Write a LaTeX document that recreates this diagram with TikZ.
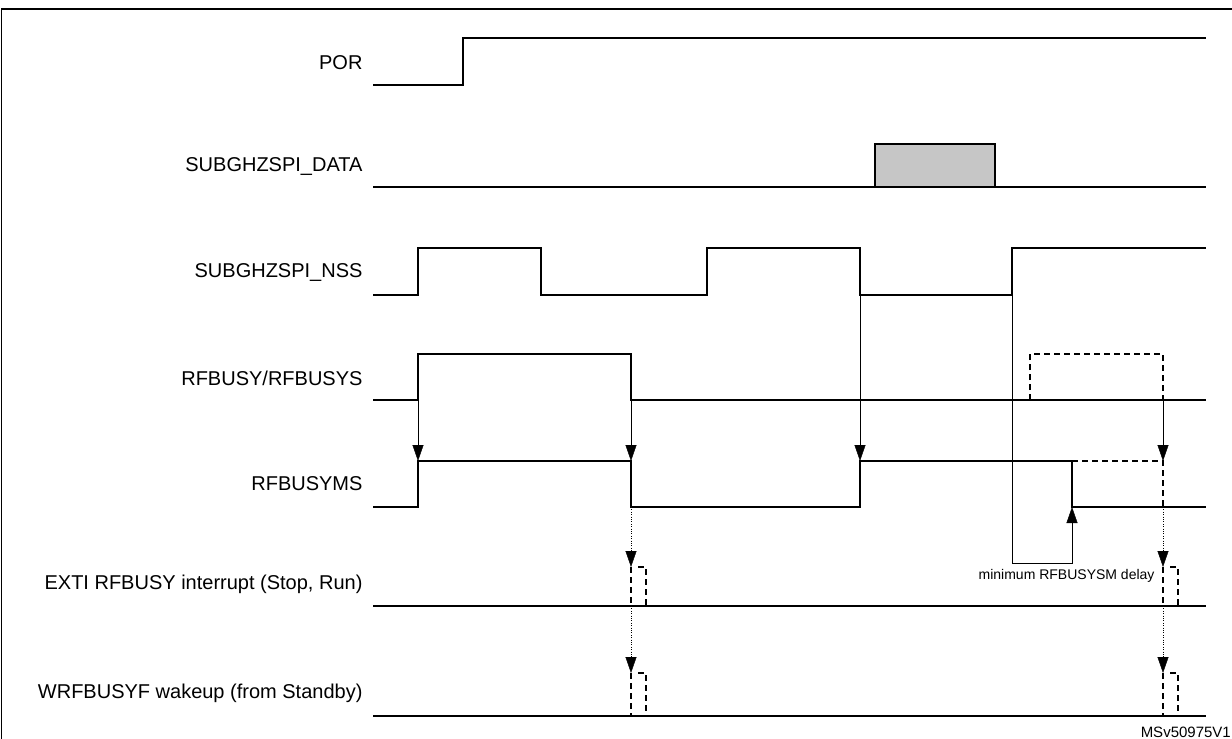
\documentclass[tikz,border=0pt]{standalone}
\usepackage{fontspec}
\setmainfont{Liberation Sans}
\usetikzlibrary{arrows.meta}
\begin{document}
\begin{tikzpicture}[x=1pt, y=-1pt,
    sig/.style={line width=1.6pt},
    dsig/.style={line width=1.6pt, dash pattern=on 6pt off 4pt},
    lbl/.style={anchor=east, font=\fontsize{20}{24}\selectfont},
    cause/.style={thin, -{Triangle[length=16pt, width=11pt]}},
    wake/.style={thin, dotted, -{Triangle[length=16pt, width=11pt]}}]
    \useasboundingbox (0,0) rectangle (1232,739);
    \draw[line width=1.2pt] (1.5,739) -- (1.5,9) -- (1232,9);

    % labels
    \node[lbl] (lPOR) at (366,63) {POR};
    \node[lbl] (lDATA) at (366,167) {SUBGHZSPI\_DATA};
    \node[lbl] (lNSS) at (366,273) {SUBGHZSPI\_NSS};
    \node[lbl] (lBUSY) at (366,378) {RFBUSY/RFBUSYS};
    \node[lbl] (lMS) at (366,484) {RFBUSYMS};
    \node[lbl] (lEXTI) at (366,584) {EXTI RFBUSY interrupt (Stop, Run)};
    \node[lbl] (lWK) at (366,693) {WRFBUSYF wakeup (from Standby)};

    % waveforms
    \draw[sig] (373,85) -- (463,85) -- (463,38) -- (1206,38); % POR
    \draw[sig, fill=gray!45] (875,187) rectangle (995,144); % data
    \draw[sig] (373,187) -- (1206,187);
    \draw[sig] (373,295) -- (418,295) -- (418,248) -- (541,248) -- (541,295) -- (707,295)
        -- (707,248) -- (860,248) -- (860,295) -- (1012,295) -- (1012,248) -- (1206,248); % NSS
    \draw[sig] (373,400) -- (418,400) -- (418,354) -- (631,354) -- (631,400) -- (1206,400); % busy
    \draw[dsig] (1030,400) -- (1030,354) -- (1163,354) -- (1163,400);
    \draw[sig] (373,507) -- (418,507) -- (418,461) -- (631,461) -- (631,507) -- (860,507)
        -- (860,461) -- (1072,461) -- (1072,507) -- (1206,507); % MS
    \draw[dsig] (1072,461) -- (1163,461) -- (1163,507);
    \draw[sig] (373,606) -- (1206,606); % EXTI
    \draw[sig] (373,716) -- (1206,716); % wakeup

    % pulses
    \foreach \px in {631,1163} {
        \draw[dsig] (\px,567) -- (\px,606);
        \draw[dsig] (\px+7,567) -- (\px+15,567) -- (\px+15,606);
        \draw[dsig] (\px,673) -- (\px,716);
        \draw[dsig] (\px+7,673) -- (\px+15,673) -- (\px+15,716);
    }

    % causes
    \coordinate (b1) at (418,400); \coordinate (m1) at (418,461);
    \coordinate (b2) at (631,400); \coordinate (m2) at (631,461);
    \coordinate (n3) at (860,295); \coordinate (m3) at (860,461);
    \coordinate (b4) at (1163,400); \coordinate (m4) at (1163,461);
    \draw[cause] (b1) -- (m1);
    \draw[cause] (b2) -- (m2);
    \draw[cause] (n3) -- (m3);
    \draw[cause] (b4) -- (m4);
    \coordinate (n5) at (1012,295); \coordinate (m5) at (1072,507);
    \draw[cause] (n5) |- (1072,563) -- (m5);
    \node[anchor=north east, font=\fontsize{14}{16}\selectfont] (dly) at (1158,566) {minimum RFBUSYSM delay};

    % interrupts
    \foreach \px in {631,1163} {
        \coordinate (e\px) at (\px,567); \coordinate (w\px) at (\px,673);
        \draw[wake] (\px,507) -- (e\px);
        \draw[wake] (\px,606) -- (w\px);
    }
    \node[anchor=south east, font=\fontsize{15}{17}\selectfont, inner sep=1pt] (ref) at (1232,739) {MSv50975V1};
\end{tikzpicture}
\end{document}
